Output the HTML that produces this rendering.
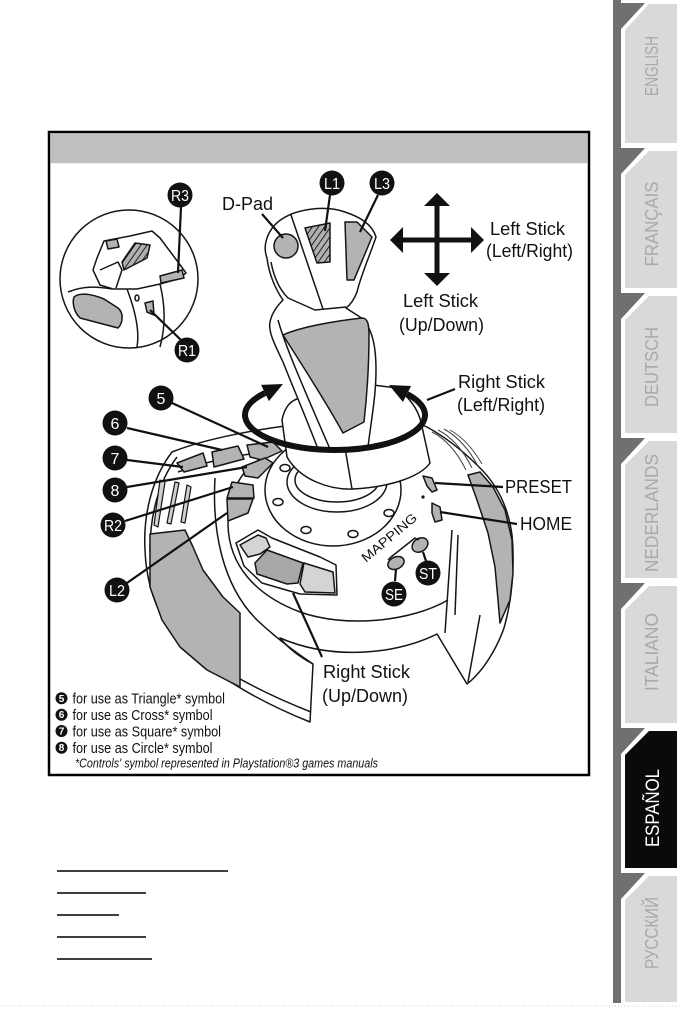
<!DOCTYPE html>
<html><head><meta charset="utf-8">
<style>
html,body{margin:0;padding:0;background:#fff;}
svg{display:block;}
text{font-family:"Liberation Sans",Arial,sans-serif;}
</style></head>
<body>
<svg width="681" height="1022" viewBox="0 0 681 1022" xmlns="http://www.w3.org/2000/svg">
<defs>
<pattern id="hatch" width="5" height="5" patternUnits="userSpaceOnUse" patternTransform="rotate(35)">
<rect width="5" height="5" fill="#b0b0b0"/><line x1="1" y1="0" x2="1" y2="5" stroke="#222" stroke-width="1"/>
</pattern>
</defs>

<!-- side tabs -->
<rect x="613" y="0" width="8" height="1003" fill="#707070"/>
<g fill="#707070">
<polygon points="613,3 645,3 621,29 613,29"/>
<polygon points="613,148 645,148 621,174 613,174"/>
<polygon points="613,293 645,293 621,319 613,319"/>
<polygon points="613,438 645,438 621,464 613,464"/>
<polygon points="613,583 645,583 621,609 613,609"/>
<polygon points="613,728 645,728 621,754 613,754"/>
<polygon points="613,873 645,873 621,899 613,899"/>
</g>
<g fill="#d9d9d9">
<polygon points="649,4 677,4 677,143 625,143 625,30"/>
<polygon points="649,151 677,151 677,288 625,288 625,175"/>
<polygon points="649,296 677,296 677,433 625,433 625,320"/>
<polygon points="649,441 677,441 677,578 625,578 625,465"/>
<polygon points="649,586 677,586 677,723 625,723 625,610"/>
<polygon points="649,731 677,731 677,868 625,868 625,755" fill="#0a0a0a"/>
<polygon points="649,876 677,876 677,1002 625,1002 625,900"/>
</g>
<g fill="#a9a9a9" font-size="18" text-anchor="middle">
<text transform="translate(658,66) rotate(-90)" textLength="60" lengthAdjust="spacingAndGlyphs">ENGLISH</text>
<text transform="translate(658,224) rotate(-90)" textLength="85" lengthAdjust="spacingAndGlyphs">FRANÇAIS</text>
<text transform="translate(658,367) rotate(-90)" textLength="80" lengthAdjust="spacingAndGlyphs">DEUTSCH</text>
<text transform="translate(658,513) rotate(-90)" textLength="118" lengthAdjust="spacingAndGlyphs">NEDERLANDS</text>
<text transform="translate(658,652) rotate(-90)" textLength="78" lengthAdjust="spacingAndGlyphs">ITALIANO</text>
<text transform="translate(659,808) rotate(-90)" textLength="78" lengthAdjust="spacingAndGlyphs" fill="#ffffff" font-size="19">ESPAÑOL</text>
<text transform="translate(658,933) rotate(-90)" textLength="72" lengthAdjust="spacingAndGlyphs">РУССКИЙ</text>
</g>
<line x1="0" y1="1006" x2="681" y2="1006" stroke="#d0d0d0" stroke-width="1" stroke-dasharray="1 2"/>

<!-- frame -->
<rect x="49" y="132" width="540" height="643" fill="#fff" stroke="#000" stroke-width="2.5"/>
<rect x="50.3" y="133.3" width="537.4" height="30" fill="#c0c0c0"/>

<!-- base -->
<g stroke="#151515" stroke-width="1.5" stroke-linejoin="round" fill="#fff">
<path d="M172,452 C152,478 143,515 145,550 C147,600 168,640 210,668 C240,690 275,708 310,722 L313,664 C298,656 288,648 280,638 C315,653 350,655 385,650 C410,646 425,640 437,634 L467,684 C485,670 498,645 504,628 C512,600 515,565 512,535 C508,505 495,482 478,466 C462,450 445,437 427,427 C390,410 240,425 172,452 Z"/>
<path fill="none" d="M177,457 C158,482 150,517 150,550 C152,597 172,635 213,662 C243,683 278,699 311,712"/>
<polygon fill="#b3b3b3" points="150,534 185,530 193,547 203,570 223,597 240,613 240,687 207,670 180,647 162,620 150,587"/>
<path fill="none" d="M215,478 C212,530 222,585 257,620 C275,637 295,652 313,664"/>
<polygon fill="#b3b3b3" points="468,475 480,472 493,487 505,510 512,540 513,573 510,600 500,623 498,600 495,567 488,533 477,500"/>
<path fill="none" d="M452,530 L445,633"/>
<path fill="none" d="M458,535 L455,615"/>
<path fill="none" d="M480,615 L468,682"/>
<path fill="none" d="M262,458 C240,470 228,495 228,525 C229,565 255,595 300,612 C345,628 410,622 448,600"/>
<path fill="none" d="M178,472 C205,462 235,455 268,452"/>
<!-- vents -->
<g fill="#cfcfcf" stroke-width="1.2">
<polygon points="160,480 165,482 158,527 154,525"/>
<polygon points="175,482 179,483 171,524 167,523"/>
<polygon points="187,485 191,487 185,523 181,522"/>
</g>
<g fill="none" stroke="#444" stroke-width="1">
<path d="M432,432 Q452,442 466,470"/>
<path d="M438,430 Q458,440 472,468"/>
<path d="M444,429 Q464,440 478,466"/>
<path d="M450,430 Q468,440 482,464"/>
</g>
<!-- buttons 5-8, R2, L2 -->
<g fill="#b3b3b3">
<path d="M177,463 L203,453 L207,466 L184,472 Z"/>
<path d="M212,452 L238,446 L244,459 L214,467 Z"/>
<path d="M247,445 L273,442 L282,451 L262,460 L250,457 Z"/>
<path d="M242,467 L265,458 L273,463 L258,478 L245,476 Z"/>
<path d="M232,482 L253,485 L254,498 L227,498 Z"/>
<path d="M227,499 L253,499 L248,513 L228,521 Z"/>
</g>
<!-- rocker -->
<path d="M236,543 L258,530 L272,538 L320,557 L336,565 L337,595 L300,594 L262,583 L244,566 Z"/>
<path fill="#d4d4d4" d="M240,545 L258,535 L266,538 L270,547 L260,554 L248,557 Z"/>
<path fill="#a8a8a8" d="M255,563 L267,550 L303,563 L298,583 L287,584 L257,574 Z"/>
<path fill="#d4d4d4" d="M304,563 L333,572 L335,593 L305,592 L300,584 Z"/>
<!-- preset/home, SE/ST -->
<path fill="#b3b3b3" d="M423,476 L432,478 L437,490 L432,492 L427,486 Z"/>
<path fill="#b3b3b3" d="M432,503 L440,507 L442,520 L435,522 L432,513 Z"/>
<ellipse cx="396" cy="563" rx="8.5" ry="6" fill="#b3b3b3" transform="rotate(-25 396 563)"/>
<ellipse cx="420" cy="545" rx="8.5" ry="6.5" fill="#b3b3b3" transform="rotate(-35 420 545)"/>
<path fill="none" d="M388,560 L391,557 L415,538 L419,540"/>
<!-- plate -->
<ellipse cx="333" cy="490" rx="68" ry="56"/>
<ellipse cx="285" cy="468" rx="5" ry="3.5"/>
<ellipse cx="278" cy="502" rx="5" ry="3.5"/>
<ellipse cx="306" cy="530" rx="5" ry="3.5"/>
<ellipse cx="353" cy="534" rx="5" ry="3.5"/>
<ellipse cx="389" cy="513" rx="5" ry="3.5"/>
<ellipse cx="337" cy="482" rx="50" ry="30"/>
<ellipse cx="337" cy="480" rx="42" ry="22"/>
<!-- boot -->
<path d="M282,420 C285,405 292,400 300,398 L373,385 L397,388 C410,398 418,410 421,422 L430,463 C420,477 390,487 353,489 C330,490 300,480 287,457 Z"/>
<path fill="none" d="M345,448 L352,489"/>
<!-- stick -->
<path d="M267,258 C262,245 268,228 282,219 C297,209 325,205 345,212 C360,217 372,224 376,237 C370,255 361,275 357,292 C354,300 350,305 346,308 L360,317 C370,325 376,340 376,370 C376,395 372,415 368,447 L318,449 C305,415 292,385 283,362 C275,345 268,332 270,322 C272,312 279,304 283,300 C276,290 269,275 267,258 Z"/>
<path fill="none" d="M278,320 C285,345 300,380 330,449"/>
<path fill="#b3b3b3" d="M283,335 C300,327 335,321 362,318 C368,318 369,325 369,335 C369,365 367,395 364,422 L343,433 C325,400 302,365 283,335 Z"/>
<path fill="none" d="M271,262 C274,278 280,290 288,298 L315,310 L346,307"/>
<path fill="none" d="M291,215 L323,309"/>
<circle cx="286" cy="246" r="12" fill="#b3b3b3"/>
<path fill="url(#hatch)" d="M305,228 L330,223 L330,262 L317,263 Z"/>
<path fill="#b3b3b3" d="M345,222 L357,222 L372,237 L354,280 L347,280 Z"/>
<!-- inset -->
<circle cx="129" cy="279" r="69"/>
<path fill="none" d="M68,292 C85,285 100,287 112,289"/>
<path fill="none" d="M127,289 C135,310 140,330 137,347"/>
<path fill="none" d="M160,284 C165,305 166,325 160,347"/>
<path d="M97,258 L104,241 L130,236 L152,231 L160,238 L178,262 L186,273 L178,279 L160,284 L137,289 L113,289 L100,285 L93,270 Z"/>
<path fill="none" d="M100,270 L118,262 L122,270 L116,288"/>
<path fill="#b3b3b3" d="M106,241 L117,239 L119,247 L108,249 Z"/>
<path fill="url(#hatch)" d="M122,262 L135,243 L150,245 L147,258 L124,270 Z"/>
<path fill="#b3b3b3" d="M160,276 L182,270 L184,278 L161,283 Z"/>
<path fill="#b3b3b3" d="M74,297 C80,292 92,294 104,299 L118,308 C124,313 123,323 118,328 L80,318 C74,312 72,303 74,297 Z"/>
<path fill="#b3b3b3" d="M145,303 L153,301 L154,315 L147,312 Z"/>
<ellipse cx="137" cy="298" rx="2" ry="3" fill="none"/>
</g>

<!-- rotation ring -->
<path d="M265,393 A90 35 0 1 0 407,394" fill="none" stroke="#111" stroke-width="6"/>
<polygon points="283,384 268.9,401.1 261.1,384.9" fill="#111"/>
<polygon points="389,385 411.1,386 402.9,402" fill="#111"/>

<!-- cross arrow -->
<g fill="#111">
<rect x="398" y="237.5" width="78" height="5"/>
<rect x="434.5" y="200" width="5" height="78"/>
<polygon points="390,240 403,227 403,253"/>
<polygon points="484,240 471,227 471,253"/>
<polygon points="437,193 424,206 450,206"/>
<polygon points="437,286 424,273 450,273"/>
</g>

<!-- leader lines -->
<g stroke="#111" stroke-width="2.2" fill="none">
<path d="M181,207 L178,273"/>
<path d="M150,310 L181,340"/>
<path d="M262,214 L283,238"/>
<path d="M330,195 L325,231"/>
<path d="M378,195 L360,232"/>
<path d="M172,403 L268,447"/>
<path d="M127,428 L222,450"/>
<path d="M127,460 L183,467"/>
<path d="M127,487 L247,467"/>
<path d="M125,521 L233,487"/>
<path d="M127,583 L227,513"/>
<path d="M293,593 L322,657"/>
<path d="M435,483 L503,487"/>
<path d="M440,512 L517,524"/>
<path d="M427,400 L455,389"/>
<path d="M396,569 L395,581"/>
<path d="M423,552 L426,561"/>
</g>
<circle cx="423" cy="497" r="1.6" fill="#111"/>

<!-- black labels -->
<g fill="#111">
<circle cx="180" cy="195" r="12.5"/>
<circle cx="187" cy="350" r="12.5"/>
<circle cx="332" cy="183" r="12.5"/>
<circle cx="382" cy="183" r="12.5"/>
<circle cx="161" cy="398" r="12.5"/>
<circle cx="115" cy="423" r="12.5"/>
<circle cx="115" cy="458" r="12.5"/>
<circle cx="115" cy="490" r="12.5"/>
<circle cx="113" cy="525" r="12.5"/>
<circle cx="117" cy="590" r="12.5"/>
<circle cx="394" cy="594" r="12.5"/>
<circle cx="428" cy="573" r="12.5"/>
</g>
<g fill="#fff" font-size="16" text-anchor="middle">
<text x="180" y="201" textLength="18" lengthAdjust="spacingAndGlyphs">R3</text>
<text x="187" y="356" textLength="18" lengthAdjust="spacingAndGlyphs">R1</text>
<text x="332" y="189" textLength="16" lengthAdjust="spacingAndGlyphs">L1</text>
<text x="382" y="189" textLength="16" lengthAdjust="spacingAndGlyphs">L3</text>
<text x="161" y="404">5</text>
<text x="115" y="429">6</text>
<text x="115" y="464">7</text>
<text x="115" y="496">8</text>
<text x="113" y="531" textLength="18" lengthAdjust="spacingAndGlyphs">R2</text>
<text x="117" y="596" textLength="16" lengthAdjust="spacingAndGlyphs">L2</text>
<text x="394" y="600" textLength="18" lengthAdjust="spacingAndGlyphs">SE</text>
<text x="428" y="579" textLength="18" lengthAdjust="spacingAndGlyphs">ST</text>
</g>

<!-- diagram text -->
<g fill="#111" font-size="18">
<text x="222" y="210" textLength="51" lengthAdjust="spacingAndGlyphs">D-Pad</text>
<text x="490" y="235" textLength="75" lengthAdjust="spacingAndGlyphs">Left Stick</text>
<text x="486" y="257" textLength="87" lengthAdjust="spacingAndGlyphs">(Left/Right)</text>
<text x="403" y="307" textLength="75" lengthAdjust="spacingAndGlyphs">Left Stick</text>
<text x="399" y="331" textLength="85" lengthAdjust="spacingAndGlyphs">(Up/Down)</text>
<text x="458" y="388" textLength="87" lengthAdjust="spacingAndGlyphs">Right Stick</text>
<text x="457" y="411" textLength="88" lengthAdjust="spacingAndGlyphs">(Left/Right)</text>
<text x="505" y="493" textLength="67" lengthAdjust="spacingAndGlyphs">PRESET</text>
<text x="520" y="530" textLength="52" lengthAdjust="spacingAndGlyphs">HOME</text>
<text x="323" y="678" textLength="87" lengthAdjust="spacingAndGlyphs">Right Stick</text>
<text x="322" y="702" textLength="86" lengthAdjust="spacingAndGlyphs">(Up/Down)</text>
<text transform="translate(392,541) rotate(-40)" font-size="13" text-anchor="middle" textLength="68" lengthAdjust="spacingAndGlyphs">MAPPING</text>
</g>

<!-- legend -->
<g fill="#111">
<circle cx="61.5" cy="698.3" r="6"/>
<circle cx="61.5" cy="714.7" r="6"/>
<circle cx="61.5" cy="731" r="6"/>
<circle cx="61.5" cy="747.7" r="6"/>
</g>
<g fill="#fff" font-size="10" font-weight="bold" text-anchor="middle">
<text x="61.5" y="701.8">5</text>
<text x="61.5" y="718.2">6</text>
<text x="61.5" y="734.5">7</text>
<text x="61.5" y="751.2">8</text>
</g>
<g fill="#111" font-size="15">
<text x="72.5" y="703.5" textLength="152.5" lengthAdjust="spacingAndGlyphs">for use as Triangle* symbol</text>
<text x="72.5" y="720" textLength="140" lengthAdjust="spacingAndGlyphs">for use as Cross* symbol</text>
<text x="72.5" y="736.5" textLength="148.5" lengthAdjust="spacingAndGlyphs">for use as Square* symbol</text>
<text x="72.5" y="753" textLength="140" lengthAdjust="spacingAndGlyphs">for use as Circle* symbol</text>
<text x="75" y="767.5" font-size="13" font-style="italic" textLength="303" lengthAdjust="spacingAndGlyphs">*Controls' symbol represented in Playstation®3 games manuals</text>
</g>

<!-- underlines -->
<g stroke="#000" stroke-width="1.6">
<line x1="57" y1="871" x2="228" y2="871"/>
<line x1="57" y1="893" x2="146" y2="893"/>
<line x1="57" y1="915" x2="119" y2="915"/>
<line x1="57" y1="937" x2="146" y2="937"/>
<line x1="57" y1="959" x2="152" y2="959"/>
</g>
</svg>
</body></html>
